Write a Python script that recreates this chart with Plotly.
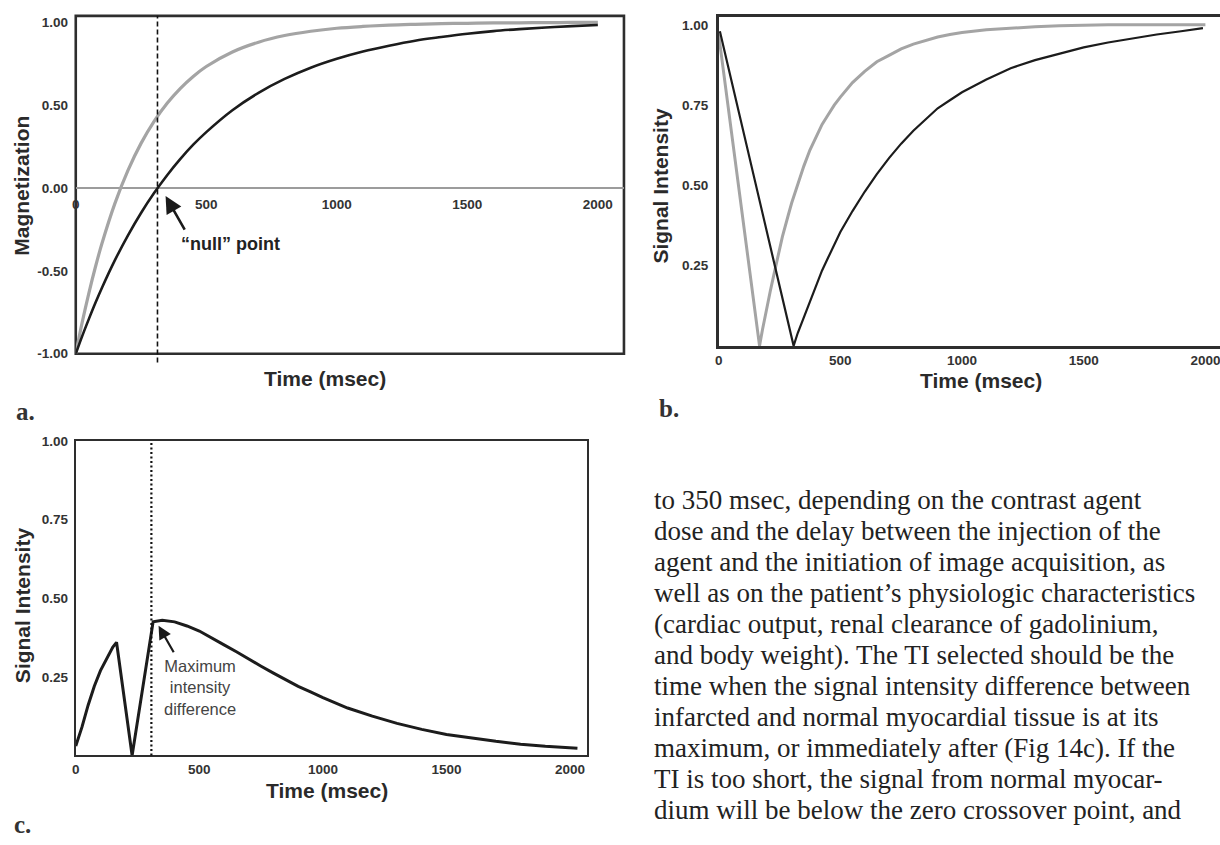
import plotly.graph_objects as go

W, H = 1220, 845

# ---------------- data ----------------
# Panel a: longitudinal magnetization recovery
A_T = [0, 25, 50, 75, 100, 150, 200, 250, 300, 350, 400, 450, 500, 600, 700, 800,
       900, 1000, 1100, 1200, 1300, 1400, 1500, 1600, 1700, 1800, 1900, 2000]
A_BLACK = [-1.0, -0.892, -0.791, -0.694, -0.603, -0.435, -0.285, -0.150, -0.030, 0.078,
           0.175, 0.262, 0.338, 0.470, 0.575, 0.659, 0.727, 0.781, 0.825, 0.860, 0.890,
           0.912, 0.932, 0.948, 0.960, 0.970, 0.978, 0.985]
A_GRAY = [-1.0, -0.808, -0.635, -0.478, -0.336, -0.092, 0.107, 0.270, 0.403, 0.512,
          0.601, 0.674, 0.734, 0.822, 0.881, 0.921, 0.947, 0.965, 0.976, 0.984, 0.989,
          0.993, 0.995, 0.997, 0.998, 0.999, 1.0, 1.0]
NULL_A = 313

# Panel b: signal intensity (magnitude)
B_GRAY_T = [0, 168, 180, 190, 200, 212, 225, 237, 250, 262, 275, 287, 300, 325, 350, 375,
            400, 425, 450, 475, 500, 550, 600, 650, 700, 750, 800, 850, 900, 950, 1000,
            1100, 1200, 1300, 1400, 1600, 2000]
B_GRAY_V = [0.97, 0.0, 0.05, 0.09, 0.125, 0.17, 0.215, 0.26, 0.30, 0.34, 0.38, 0.41, 0.445,
            0.505, 0.56, 0.61, 0.65, 0.69, 0.72, 0.75, 0.775, 0.82, 0.855, 0.885, 0.905,
            0.925, 0.94, 0.952, 0.962, 0.97, 0.976, 0.985, 0.99, 0.994, 0.997, 1.0, 1.0]
B_BLACK_T = [5, 308, 325, 350, 375, 400, 425, 450, 475, 500, 550, 600, 650, 700, 750, 800,
             850, 900, 950, 1000, 1100, 1200, 1300, 1400, 1500, 1600, 1700, 1800, 1900, 1990]
B_BLACK_V = [0.98, 0.0, 0.04, 0.09, 0.14, 0.19, 0.235, 0.275, 0.315, 0.355, 0.42, 0.48,
             0.535, 0.585, 0.63, 0.67, 0.705, 0.74, 0.765, 0.79, 0.83, 0.865, 0.89, 0.91,
             0.93, 0.945, 0.958, 0.97, 0.98, 0.99]

# Panel c: signal intensity difference
C_T = [0, 25, 50, 75, 100, 125, 150, 165, 228, 313, 350, 400, 450, 500, 550, 600, 650,
       700, 750, 800, 850, 900, 950, 1000, 1100, 1200, 1300, 1400, 1500, 1600, 1700,
       1800, 1900, 2030]
C_V = [0.03, 0.09, 0.16, 0.22, 0.27, 0.31, 0.345, 0.36, 0.0, 0.425, 0.43, 0.425, 0.412,
       0.396, 0.375, 0.352, 0.33, 0.306, 0.284, 0.262, 0.24, 0.22, 0.202, 0.184, 0.151,
       0.125, 0.102, 0.083, 0.067, 0.055, 0.045, 0.036, 0.029, 0.023]
TI_C = 306

X_TICKS = [0, 500, 1000, 1500, 2000]
A_Y_TICKS = [-1.0, -0.5, 0.0, 0.5, 1.0]
SI_TICKS = [0.25, 0.5, 0.75, 1.0]

TEXT_LINES = [
    "to 350 msec, depending on the contrast agent",
    "dose and the delay between the injection of the",
    "agent and the initiation of image acquisition, as",
    "well as on the patient\u2019s physiologic characteristics",
    "(cardiac output, renal clearance of gadolinium,",
    "and body weight). The TI selected should be the",
    "time when the signal intensity difference between",
    "infarcted and normal myocardial tissue is at its",
    "maximum, or immediately after (Fig 14c). If the",
    "TI is too short, the signal from normal myocar-",
    "dium will be below the zero crossover point, and",
]

# ---------------- styling ----------------
SANS = "Liberation Sans, Arial, sans-serif"
SERIF = "Liberation Serif, Times New Roman, serif"
BLACK = "#1c1c1c"
GRAY = "#a4a4a4"
FRAME = "#2e2e2e"
TICKFONT = dict(family=SANS, size=13.5, color="#333333", weight="bold")
TITLEFONT = dict(family=SANS, size=21, color="#2a2a2a", weight="bold")


def px(x):
    return x / W


def py(y):
    return 1 - y / H


def fmt(vals):
    return [f"{v:.2f}" for v in vals]


DOM_A_X = [px(72), px(622)]
DOM_A_Y = [py(353), py(9)]
DOM_B_X = [px(717), 1.0]
DOM_B_Y = [py(345), py(10)]
DOM_C_X = [px(72), px(585)]
DOM_C_Y = [py(762), py(442)]

RANGE_A_Y = [-1.0, 1.04]
zero_pos = DOM_A_Y[0] + (0 - RANGE_A_Y[0]) / (RANGE_A_Y[1] - RANGE_A_Y[0]) * (DOM_A_Y[1] - DOM_A_Y[0])

fig = go.Figure()
fig.add_trace(go.Scatter(x=A_T, y=A_GRAY, xaxis="x", yaxis="y", mode="lines",
                         line=dict(color=GRAY, width=3.2, shape="spline"), showlegend=False))
fig.add_trace(go.Scatter(x=A_T, y=A_BLACK, xaxis="x", yaxis="y", mode="lines",
                         line=dict(color=BLACK, width=2.6, shape="spline"), showlegend=False))
fig.add_trace(go.Scatter(x=B_GRAY_T, y=B_GRAY_V, xaxis="x2", yaxis="y2", mode="lines",
                         line=dict(color=GRAY, width=3.0), showlegend=False))
fig.add_trace(go.Scatter(x=B_BLACK_T, y=B_BLACK_V, xaxis="x2", yaxis="y2", mode="lines",
                         line=dict(color=BLACK, width=2.2), showlegend=False))
fig.add_trace(go.Scatter(x=C_T, y=C_V, xaxis="x3", yaxis="y3", mode="lines",
                         line=dict(color=BLACK, width=3.0), showlegend=False))

hidden_tick = dict(ticks="outside", tickcolor="rgba(0,0,0,0)")

fig.update_layout(
    width=W, height=H,
    margin=dict(l=0, r=0, t=0, b=0),
    paper_bgcolor="white", plot_bgcolor="white",
    showlegend=False,
    xaxis=dict(domain=DOM_A_X, range=[0, 2100], anchor="free", position=zero_pos,
               showline=False, showgrid=False, zeroline=False, tickvals=X_TICKS,
               tickfont=TICKFONT, ticklen=4, **hidden_tick),
    yaxis=dict(domain=DOM_A_Y, range=RANGE_A_Y, anchor="x", showline=False, showgrid=False,
               zeroline=True, zerolinecolor="#9c9c9c", zerolinewidth=1.6,
               tickvals=A_Y_TICKS, ticktext=fmt(A_Y_TICKS), tickfont=TICKFONT, ticklen=4,
               **hidden_tick),
    xaxis2=dict(domain=DOM_B_X, range=[0, 2060], anchor="y2", showline=True, mirror=True,
                linecolor=FRAME, linewidth=2.5, showgrid=False, zeroline=False,
                tickvals=X_TICKS, tickfont=TICKFONT, ticks="", ticklabeloverflow="allow"),
    yaxis2=dict(domain=DOM_B_Y, range=[0, 1.025], anchor="x2", showline=True, mirror=False,
                linecolor=FRAME, linewidth=2.5, showgrid=False, zeroline=False,
                tickvals=SI_TICKS, ticktext=fmt(SI_TICKS), tickfont=TICKFONT, ticklen=5,
                **hidden_tick),
    xaxis3=dict(domain=DOM_C_X, range=[0, 2069], anchor="y3", showline=True, mirror=True,
                linecolor=FRAME, linewidth=2.2, showgrid=False, zeroline=False,
                tickvals=X_TICKS, tickfont=TICKFONT, ticks=""),
    yaxis3=dict(domain=DOM_C_Y, range=[0, 1.0], anchor="x3", showline=True, mirror=True,
                linecolor=FRAME, linewidth=2.2, showgrid=False, zeroline=False,
                tickvals=SI_TICKS, ticktext=fmt(SI_TICKS), tickfont=TICKFONT, ticklen=3,
                **hidden_tick),
)

shapes = [
    # frame of panel a (drawn under the tick labels)
    dict(type="rect", xref="x domain", yref="y domain", x0=0, x1=1, y0=0, y1=1, layer="below",
         line=dict(color=FRAME, width=2.6), fillcolor="rgba(0,0,0,0)"),
    # null point marker line (panel a)
    dict(type="line", xref="x", yref="paper", x0=NULL_A, x1=NULL_A, y0=py(362), y1=DOM_A_Y[1],
         line=dict(color="#111111", width=1.6, dash="5px,3px")),
    # TI marker line (panel c)
    dict(type="line", xref="x3", yref="y3 domain", x0=TI_C, x1=TI_C, y0=0, y1=1,
         line=dict(color="#111111", width=2.2, dash="2px,2.5px")),
]
fig.update_layout(shapes=shapes)

ann = []


def title(text, x, y, angle=0):
    ann.append(dict(text=text, x=px(x), y=py(y), xref="paper", yref="paper",
                    xanchor="center", yanchor="middle", showarrow=False,
                    textangle=angle, font=TITLEFONT))


# axis titles
title("Time (msec)", 322, 378)
title("Magnetization", 18, 182, -90)
title("Time (msec)", 980, 380)
title("Signal Intensity", 659, 182, -90)
title("Time (msec)", 324, 798)
title("Signal Intensity", 18, 609, -90)

# panel a "null" point
ann.append(dict(text="", x=344, y=-0.048, xref="x", yref="y", showarrow=True,
                ax=20, ay=35, axref="pixel", ayref="pixel", arrowhead=2, arrowsize=1.3,
                arrowwidth=2.6, arrowcolor="#1a1a1a"))
ann.append(dict(text="\u201cnull\u201d point", x=397, y=-0.337, xref="x", yref="y",
                xanchor="left", yanchor="middle", showarrow=False,
                font=dict(family=SANS, size=18, color="#222222", weight="bold")))

# panel c annotation
ann.append(dict(text="", x=335, y=0.4125, xref="x3", yref="y3", showarrow=True,
                ax=16, ay=28, axref="pixel", ayref="pixel", arrowhead=2, arrowsize=1.2,
                arrowwidth=2.2, arrowcolor="#1a1a1a"))
ann.append(dict(text="Maximum<br>intensity<br>difference", x=504, y=0.216, xref="x3", yref="y3",
                xanchor="center", yanchor="middle", align="center", showarrow=False,
                font=dict(family=SANS, size=16.5, color="#444444")))

# panel letters
for lab, xx, yy in (("a.", 10, 412), ("b.", 655, 409), ("c.", 8, 832)):
    ann.append(dict(text=lab, x=px(xx), y=py(yy), xref="paper", yref="paper",
                    xanchor="left", yanchor="middle", showarrow=False,
                    font=dict(family=SERIF, size=25, color="#333333", weight="bold")))

# body text
for i, line in enumerate(TEXT_LINES):
    yc = 502 + i * 31.6
    ann.append(dict(text=line, x=px(650), y=py(yc), xref="paper", yref="paper",
                    xanchor="left", yanchor="middle", showarrow=False,
                    font=dict(family=SERIF, size=27, color="#222222")))

fig.update_layout(annotations=ann)

# remove the default page margin so the figure sits at the top-left corner
fig.write_html("out.html", config={"displayModeBar": False},
               post_script="document.body.style.margin='0';document.body.style.padding='0';")
